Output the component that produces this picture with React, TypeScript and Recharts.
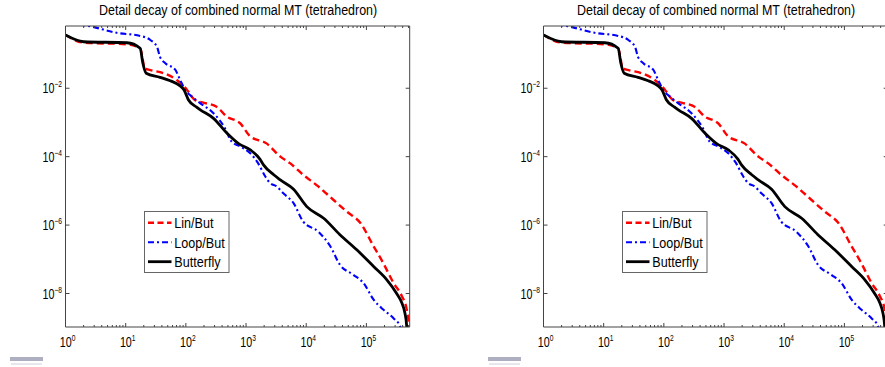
import React from 'react';
import { LineChart, Line, XAxis, YAxis, Legend } from 'recharts';

const TITLE = 'Detail decay of combined normal MT (tetrahedron)';
const SERIES_NAMES = ['Lin/But', 'Loop/But', 'Butterfly'];

// Lin/But (red dashed)
const linX = [1, 2, 10.5, 17.4, 19.5, 20.4, 25.7, 42.7, 70.8, 104.7, 141, 195, 324, 479, 794, 1175, 2188, 3715, 5370, 8913, 15849, 28184, 46774, 79433, 131826, 190546, 281838, 389045, 467735, 512861, 524288];
const linY = [0.36, 0.215, 0.193, 0.145, 0.06, 0.038, 0.034, 0.0275, 0.0174, 0.0089, 0.00457, 0.0038, 0.00288, 0.00148, 9.55e-4, 3.9e-4, 2.45e-4, 1.0e-4, 6.46e-5, 2.95e-5, 1.35e-5, 5.5e-6, 2.51e-6, 1.15e-6, 2.4e-7, 7.76e-8, 2.04e-8, 8.3e-9, 3.39e-9, 1.1e-9, 1e-10];

// Loop/But (blue dash-dot)
const loopX = [1, 2.75, 7.08, 17.4, 25.7, 33.1, 37.2, 45.7, 66.1, 80.4, 97.7, 117.5, 135, 174, 288, 447, 575, 794, 1175, 1585, 2089, 2512, 3236, 4169, 6166, 8913, 15849, 25119, 36308, 60256, 89125, 131826, 190546, 281838, 363078, 400000];
const loopY = [0.85, 0.63, 0.417, 0.339, 0.257, 0.162, 0.083, 0.0537, 0.0355, 0.0174, 0.0089, 0.0063, 0.0051, 0.00363, 0.00186, 6.76e-4, 2.75e-4, 2.0e-4, 1.26e-4, 6.46e-5, 2.63e-5, 1.7e-5, 1.35e-5, 8.5e-6, 4.37e-6, 1.26e-6, 6.46e-7, 2.4e-7, 6.92e-8, 3.55e-8, 2.04e-8, 6.6e-9, 3.39e-9, 1.9e-9, 1.1e-9, 5e-10];

// Butterfly (black solid)
const butX = [1, 2, 10.5, 17.4, 19.3, 21.9, 37.2, 55, 80.4, 93.3, 110, 151, 174, 288, 479, 741, 1175, 1698, 1950, 2884, 3715, 6166, 10233, 19498, 36308, 69183, 131826, 218776, 316228, 389045, 436516, 467735, 470000];
const butY = [0.36, 0.229, 0.214, 0.148, 0.0537, 0.0275, 0.0209, 0.0166, 0.0117, 0.0089, 0.0046, 0.0028, 0.00234, 0.00132, 4.9e-4, 2.45e-4, 1.58e-4, 8.5e-5, 5.75e-5, 2.95e-5, 2.09e-5, 1.12e-5, 3.47e-6, 1.58e-6, 5.25e-7, 1.9e-7, 6.17e-8, 2.51e-8, 1.02e-8, 5.25e-9, 2.69e-9, 1.1e-9, 1e-12];

const X_MAJOR = [1, 10, 100, 1000, 10000, 100000];
const X_MINOR_MULT = [2, 3, 4, 5, 6, 7, 8, 9];
const Y_TICKS = [1e-2, 1e-4, 1e-6, 1e-8];
const X_DOMAIN: [number, number] = [1, 524288];
const Y_DOMAIN: [number, number] = [1.05e-9, 0.66];

const zip = (xs: number[], ys: number[]) => xs.map((x, i) => ({ x, y: ys[i] }));
const linData = zip(linX, linY);
const loopData = zip(loopX, loopY);
const butData = zip(butX, butY);

const xTicks: number[] = [];
X_MAJOR.forEach((m) => {
  xTicks.push(m);
  X_MINOR_MULT.forEach((k) => {
    if (m * k <= X_DOMAIN[1]) xTicks.push(m * k);
  });
});

const AX = '#444';
const FONT = '"Liberation Sans", Arial, Helvetica, sans-serif';

const expOf = (v: number) => {
  const e = Math.log10(v);
  return Math.abs(e - Math.round(e)) < 1e-6 ? Math.round(e) : null;
};
const expStr = (e: number) => (e < 0 ? '\u2212' + Math.abs(e) : String(e));

const BottomTick = (props: any) => {
  const { x, y, payload } = props;
  const e = expOf(payload.value);
  return (
    <g>
      <line x1={x} x2={x} y1={y} y2={y - (e !== null ? 4 : 2)} stroke={AX} strokeWidth={1} />
      {e !== null && (
        <g transform={`translate(${x},${y + 19.7}) scale(0.74,1)`}>
          <text x={-7.8} y={0} fontSize={14.5} fontFamily={FONT} fill="#000">
            10<tspan dy={-6} fontSize={9}>{expStr(e)}</tspan>
          </text>
        </g>
      )}
    </g>
  );
};

const TopTick = (props: any) => {
  const { x, y, payload } = props;
  const e = expOf(payload.value);
  return <line x1={x} x2={x} y1={y} y2={y + (e !== null ? 4 : 2)} stroke={AX} strokeWidth={1} />;
};

const LeftTick = (props: any) => {
  const { x, y, payload } = props;
  const e = expOf(payload.value);
  return (
    <g>
      <line x1={x} x2={x + 4} y1={y} y2={y} stroke={AX} strokeWidth={1} />
      <g transform={`translate(${x - 3.5},${y + 5}) scale(0.74,1)`}>
        <text x={0} y={0} textAnchor="end" fontSize={14.5} fontFamily={FONT} fill="#000">
          10<tspan dy={-6} fontSize={9}>{expStr(e ?? 0)}</tspan>
        </text>
      </g>
    </g>
  );
};

const RightTick = (props: any) => {
  const { x, y } = props;
  return <line x1={x} x2={x - 4} y1={y} y2={y} stroke={AX} strokeWidth={1} />;
};

const LEGEND_STYLES = [
  { color: '#ff0000', dash: '6 3.5', width: 2.4 },
  { color: '#0000ff', dash: '6 3 2 3', width: 2 },
  { color: '#000000', dash: undefined, width: 2.8 },
];

const LegendBox = () => (
  <svg width={86} height={62} style={{ display: 'block' }}>
    <rect x={0.5} y={0.5} width={84.5} height={61} fill="#fff" stroke="#666" strokeWidth={1} />
    {SERIES_NAMES.map((name, i) => {
      const cy = 11.7 + i * 19.5;
      const s = LEGEND_STYLES[i];
      return (
        <g key={name}>
          <line x1={4} x2={27.5} y1={cy} y2={cy} stroke={s.color} strokeWidth={s.width} strokeDasharray={s.dash} />
          <g transform={`translate(30.3,${cy + 5.4}) scale(0.84,1)`}>
            <text x={0} y={0} fontSize={15} fontFamily={FONT} fill="#000">{name}</text>
          </g>
        </g>
      );
    })}
  </svg>
);

const Panel = ({ left }: { left: number }) => (
  <div style={{ position: 'absolute', left, top: 0, width: 445, height: 367 }}>
    <div
      style={{
        position: 'absolute',
        left: 65.5,
        top: 3.0,
        width: 344.2,
        textAlign: 'center',
        fontFamily: FONT,
        fontSize: 14,
        lineHeight: '15px',
        whiteSpace: 'nowrap',
        color: '#000',
        transform: 'scaleX(0.89)',
        transformOrigin: 'center',
        zIndex: 2,
      }}
    >
      {TITLE}
    </div>
    <LineChart width={445} height={367} margin={{ top: 25, right: 34.3, bottom: 0, left: 5.5 }}>
      <XAxis
        xAxisId={0}
        dataKey="x"
        type="number"
        scale="log"
        domain={X_DOMAIN}
        allowDataOverflow
        ticks={xTicks}
        interval={0}
        height={40}
        tickSize={0}
        tickMargin={0}
        tickLine={false}
        axisLine={{ stroke: AX, strokeWidth: 1 }}
        tick={<BottomTick />}
      />
      <XAxis
        xAxisId="top"
        orientation="top"
        dataKey="x"
        type="number"
        scale="log"
        domain={X_DOMAIN}
        allowDataOverflow
        ticks={xTicks}
        interval={0}
        height={1}
        tickSize={0}
        tickMargin={0}
        tickLine={false}
        axisLine={{ stroke: AX, strokeWidth: 1 }}
        tick={<TopTick />}
      />
      <YAxis
        yAxisId={0}
        type="number"
        scale="log"
        domain={Y_DOMAIN}
        allowDataOverflow
        ticks={Y_TICKS}
        interval={0}
        width={60}
        tickSize={0}
        tickMargin={0}
        tickLine={false}
        axisLine={{ stroke: AX, strokeWidth: 1 }}
        tick={<LeftTick />}
      />
      <YAxis
        yAxisId="r"
        orientation="right"
        type="number"
        scale="log"
        domain={Y_DOMAIN}
        allowDataOverflow
        ticks={Y_TICKS}
        interval={0}
        width={1}
        tickSize={0}
        tickMargin={0}
        tickLine={false}
        axisLine={{ stroke: AX, strokeWidth: 1 }}
        tick={<RightTick />}
      />
      <Line
        data={linData}
        dataKey="y"
        name={SERIES_NAMES[0]}
        type="monotone"
        stroke="#ff0000"
        strokeWidth={2.4}
        strokeDasharray="7 4"
        dot={false}
        activeDot={false}
        isAnimationActive={false}
      />
      <Line
        data={loopData}
        dataKey="y"
        name={SERIES_NAMES[1]}
        type="monotone"
        stroke="#0000ff"
        strokeWidth={2.1}
        strokeDasharray="6 3 2 3"
        dot={false}
        activeDot={false}
        isAnimationActive={false}
      />
      <Line
        data={butData}
        dataKey="y"
        name={SERIES_NAMES[2]}
        type="monotone"
        stroke="#000000"
        strokeWidth={2.8}
        dot={false}
        activeDot={false}
        isAnimationActive={false}
      />
      <Legend
        layout="vertical"
        align="center"
        verticalAlign="middle"
        content={() => <LegendBox />}
        wrapperStyle={{ left: 144, top: 211, width: 86, height: 62 }}
      />
    </LineChart>
    <div style={{ position: 'absolute', left: 10, top: 357.3, width: 33, height: 3.5, background: '#aeb0c2' }} />
    <div style={{ position: 'absolute', left: 11, top: 362.7, width: 31, height: 2, background: '#e6e6ec' }} />
  </div>
);

export default function App() {
  return (
    <div style={{ position: 'absolute', left: 0, top: 0, width: 885, height: 367, overflow: 'hidden', background: '#fff' }}>
      <Panel left={0} />
      <Panel left={478.2} />
    </div>
  );
}
